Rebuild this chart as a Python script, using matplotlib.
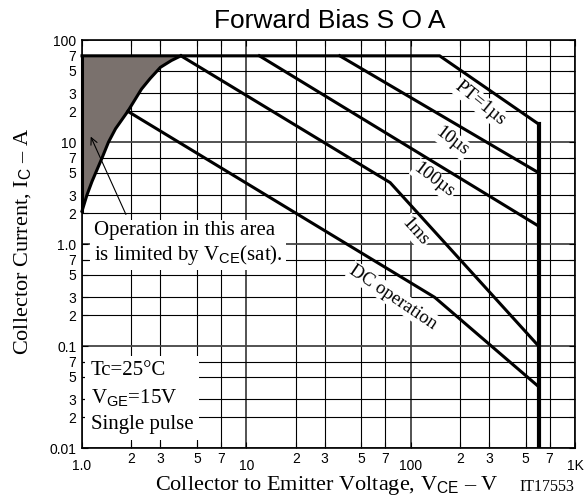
import numpy as np
import matplotlib
matplotlib.use('Agg')
import matplotlib.pyplot as plt
from matplotlib.ticker import FixedLocator, FuncFormatter

plt.rcParams['font.family'] = 'Liberation Sans'
plt.rcParams['mathtext.fontset'] = 'custom'
plt.rcParams['mathtext.rm'] = 'Liberation Sans'
plt.rcParams['mathtext.it'] = 'Liberation Sans:italic'

# Data (V in volts, I in amps)
vsat_v = [1.0, 1.07, 1.15, 1.32, 1.45, 1.6, 1.9, 2.3, 2.6, 3.0, 3.5, 4.0]
vsat_i = [2.1, 3.0, 4.1, 6.9, 10.0, 13.5, 20.0, 33.0, 42.0, 54.0, 63.0, 70.0]

pt1us_v = [1.0, 150, 600, 600]
pt1us_i = [70, 70, 15, 0.01]
us10_v = [37, 600]
us10_i = [70, 5.0]
us100_v = [12, 600]
us100_i = [70, 1.5]
ms1_v = [4.0, 75, 600]
ms1_i = [70, 4.0, 0.1]
dc_v = [1.9, 140, 600]
dc_i = [20, 0.3, 0.04]

curve_labels = ['PT=1µs', '10µs', '100µs', '1ms', 'DC operation']

x_major = [1, 10, 100, 1000]
x_major_labels = ['1.0', '10', '100', '1K']
y_major = [0.01, 0.1, 1, 10, 100]
y_major_labels = ['0.01', '0.1', '1.0', '10', '100']
minor_digits = [2, 3, 5, 7]

fig = plt.figure(figsize=(5.87, 5.04), dpi=100)
ax = fig.add_axes([0.1397, 0.1111, 0.8399, 0.8095])
ax.set_xscale('log')
ax.set_yscale('log')
ax.set_xlim(1, 1000)
ax.set_ylim(0.01, 100)

x_minor = [d * 10.0 ** e for e in range(0, 3) for d in minor_digits]
y_minor = [d * 10.0 ** e for e in range(-2, 2) for d in minor_digits]
ax.xaxis.set_major_locator(FixedLocator(x_major))
ax.xaxis.set_minor_locator(FixedLocator(x_minor))
ax.yaxis.set_major_locator(FixedLocator(y_major))
ax.yaxis.set_minor_locator(FixedLocator(y_minor))
ax.xaxis.set_major_formatter(FuncFormatter(lambda v, p: x_major_labels[int(round(np.log10(v)))]))
ax.yaxis.set_major_formatter(FuncFormatter(lambda v, p: y_major_labels[int(round(np.log10(v))) + 2]))
digit = lambda v, p: str(int(round(v / 10 ** np.floor(np.log10(v) + 1e-9))))
ax.xaxis.set_minor_formatter(FuncFormatter(digit))
ax.yaxis.set_minor_formatter(FuncFormatter(digit))

ax.tick_params(which='both', direction='in', length=4, width=0.8, labelsize=10,
               top=True, right=True)
ax.tick_params(axis='x', which='major', pad=8)
ax.tick_params(axis='x', which='minor', pad=3)
ax.tick_params(axis='y', which='both', pad=4)

ax.grid(which='minor', color='black', lw=0.8)
ax.grid(which='major', color='#444444', lw=1.3)
ax.set_axisbelow(True)
for s in ax.spines.values():
    s.set_linewidth(1.2)

# shaded VCE(sat) region
ax.fill([vsat_v[0]] + vsat_v, [vsat_i[-1]] + vsat_i, color='#7a716d', zorder=2, lw=0)

lk = dict(color='black', lw=2.2, zorder=5, solid_joinstyle='miter', clip_on=False)
ax.plot(vsat_v, vsat_i, **lk)
ax.plot([vsat_v[0], vsat_v[0]], [vsat_i[0], vsat_i[-1]], **lk)
ax.plot(pt1us_v[:3], pt1us_i[:3], **lk)
ax.plot(pt1us_v[2:], pt1us_i[2:], color='black', lw=3, zorder=5)
ax.plot(us10_v, us10_i, **lk)
ax.plot(us100_v, us100_i, **lk)
ax.plot(ms1_v, ms1_i, **lk)
ax.plot(dc_v, dc_i, **lk)

# curve labels
serif = 'Liberation Serif'
label_pos = [(264, 24), (178, 10.1), (139, 4.2), (107, 1.32), (78.5, 0.30)]
label_rot = [-39, -37, -37, -48, -34]
for txt, (lx, ly), rot in zip(curve_labels, label_pos, label_rot):
    ax.text(lx, ly, txt, family=serif, fontsize=13.5, rotation=rot, rotation_mode='anchor',
            ha='center', va='center', zorder=4,
            bbox=dict(facecolor='white', edgecolor='none', pad=1.0))

ax.text(1.18, 1.0, 'Operation in this area\nis limited by V$_{\\mathrm{CE}}$(sat).',
        family=serif, fontsize=15, ha='left', va='center', linespacing=1.15, zorder=4,
        bbox=dict(facecolor='white', edgecolor='none', pad=2.5))
ax.annotate('', xy=(1.13, 11.3), xytext=(1.85, 1.95),
            arrowprops=dict(arrowstyle='->', lw=0.8, color='black', shrinkA=0, shrinkB=0,
                            mutation_scale=12), zorder=6)

ax.text(1.13, 0.031, 'Tc=25°C\nV$_{\\mathrm{GE}}$=15V\nSingle pulse',
        family=serif, fontsize=15, ha='left', va='center', linespacing=1.45, zorder=4,
        bbox=dict(facecolor='white', edgecolor='none', pad=4))

fig.text(0.561, 0.958, 'Forward Bias S O A', fontsize=19, ha='center', va='center')
fig.text(0.556, 0.036, 'Collector to Emitter Voltage, V$_{\\mathrm{CE}}$ – V',
         family=serif, fontsize=16, ha='center', va='center')
fig.text(0.931, 0.034, 'IT17553', family=serif, fontsize=11.5, ha='center', va='center')
fig.text(0.040, 0.52, 'Collector Current, I$_{\\mathrm{C}}$ – A', family=serif, fontsize=16,
         ha='center', va='center', rotation=90)

fig.savefig('out.png', dpi=100)
